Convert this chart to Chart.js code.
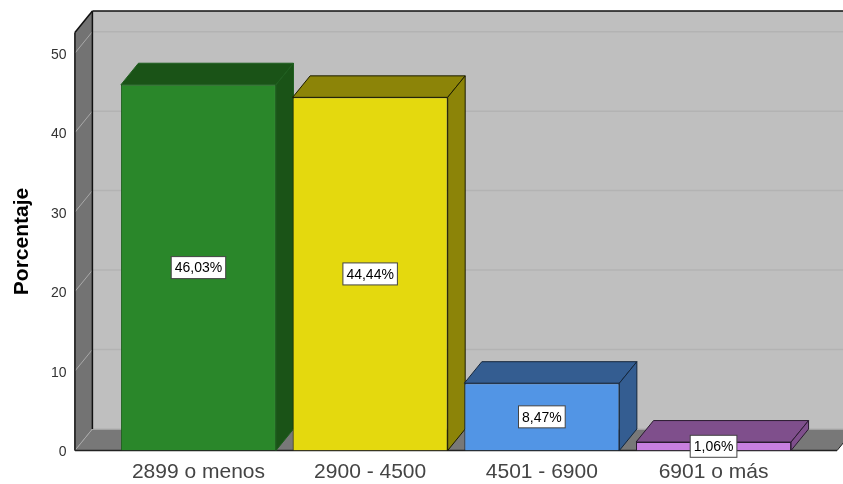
<!DOCTYPE html>
<html>
<head>
<meta charset="utf-8">
<style>
    html, body { margin: 0; padding: 0; background: #fff; }
    canvas { display: block; }
</style>
<script src="https://cdn.jsdelivr.net/npm/chart.js@4"></script>
</head>
<body>
<canvas id="chart" width="843" height="484"></canvas>
<script>
const categories = ['2899 o menos', '2900 - 4500', '4501 - 6900', '6901 o más'];
const percentages = [46.03, 44.44, 8.47, 1.06];
const valueLabels = ['46,03%', '44,44%', '8,47%', '1,06%'];
const yTicks = [0, 10, 20, 30, 40, 50];
const yMax = 52.6;

const frontColors = ['#2a872a', '#e4d90e', '#5295e5', '#c87fe0'];
const darkColors = ['#1a5317', '#8c8408', '#345d91', '#7f4f8c'];
const edgeColors = ['#1f5f1f', '#1c1c00', '#14263c', '#2a1a30'];

// depth of the fake 3D box, and how far the walls go past the outer bars
const depthX = 17.5;
const depthY = 21.5;
const wallPad = 37.7;

function poly(ctx, pts, fill, stroke) {
    ctx.beginPath();
    ctx.moveTo(pts[0][0], pts[0][1]);
    pts.slice(1).forEach(p => ctx.lineTo(p[0], p[1]));
    ctx.closePath();
    if (fill) { ctx.fillStyle = fill; ctx.fill(); }
    if (stroke) { ctx.strokeStyle = stroke; ctx.lineWidth = 1; ctx.stroke(); }
}

function line(ctx, x1, y1, x2, y2, color, width) {
    ctx.beginPath();
    ctx.moveTo(x1, y1);
    ctx.lineTo(x2, y2);
    ctx.strokeStyle = color;
    ctx.lineWidth = width || 1;
    ctx.stroke();
}

const box3d = {
    id: 'box3d',
    beforeDatasetsDraw(chart) {
        const ctx = chart.ctx;
        const area = chart.chartArea;
        const y = chart.scales.y;
        const left = area.left - wallPad;
        const right = area.right + wallPad;
        const top = area.top;
        const bottom = area.bottom;

        ctx.save();
        // back wall, left wall, floor
        poly(ctx, [[left + depthX, top - depthY], [right + depthX, top - depthY], [right + depthX, bottom - depthY], [left + depthX, bottom - depthY]], '#bfbfbf');
        poly(ctx, [[left, top], [left + depthX, top - depthY], [left + depthX, bottom - depthY], [left, bottom]], '#737373');
        poly(ctx, [[left, bottom], [left + depthX, bottom - depthY], [right + depthX, bottom - depthY], [right, bottom]], '#787878');

        // gridlines run along the left wall and then the back wall
        yTicks.forEach(t => {
            const py = y.getPixelForValue(t);
            line(ctx, left, py, left + depthX, py - depthY, '#a9a9a9');
            line(ctx, left + depthX, py - depthY, right + depthX, py - depthY, '#b3b3b3', 1.5);
        });

        // outline of the box
        line(ctx, left, top, left + depthX, top - depthY, '#111', 1.5);
        line(ctx, left + depthX, top - depthY, right + depthX, top - depthY, '#111', 1.5);
        line(ctx, left, top, left, bottom, '#111', 1.5);
        line(ctx, left + depthX, top - depthY, left + depthX, bottom - depthY, '#111', 1.5);
        line(ctx, left, bottom, right, bottom, '#222', 1.5);
        line(ctx, right, bottom, right + depthX, bottom - depthY, '#222');

        // top and right side of each bar
        chart.getDatasetMeta(0).data.forEach((bar, i) => {
            const l = bar.x - bar.width / 2;
            const r = bar.x + bar.width / 2;
            poly(ctx, [[l, bar.y], [l + depthX, bar.y - depthY], [r + depthX, bar.y - depthY], [r, bar.y]], darkColors[i], edgeColors[i]);
            poly(ctx, [[r, bar.y], [r + depthX, bar.y - depthY], [r + depthX, bar.base - depthY], [r, bar.base]], darkColors[i], edgeColors[i]);
        });
        ctx.restore();
    },
    afterDatasetsDraw(chart) {
        const ctx = chart.ctx;
        ctx.save();
        ctx.font = '14px "Liberation Sans", Arial, sans-serif';
        chart.getDatasetMeta(0).data.forEach((bar, i) => {
            const w = ctx.measureText(valueLabels[i]).width + 7;
            const h = 22;
            const cy = (bar.y + bar.base) / 2;
            ctx.fillStyle = '#fff';
            ctx.fillRect(bar.x - w / 2, cy - h / 2, w, h);
            ctx.strokeStyle = '#444';
            ctx.lineWidth = 1;
            ctx.strokeRect(bar.x - w / 2, cy - h / 2, w, h);
            ctx.fillStyle = '#000';
            ctx.textAlign = 'center';
            ctx.textBaseline = 'middle';
            ctx.fillText(valueLabels[i], bar.x, cy + 1);
        });
        ctx.restore();
    }
};

new Chart(document.getElementById('chart'), {
    type: 'bar',
    data: {
        labels: categories,
        datasets: [{
            data: percentages,
            backgroundColor: frontColors,
            borderColor: edgeColors,
            borderWidth: 1,
            barPercentage: 0.903,
            categoryPercentage: 1
        }]
    },
    options: {
        responsive: false,
        animation: false,
        layout: { padding: { top: 32.5, right: 43.6, left: 0, bottom: 0 } },
        plugins: { legend: { display: false }, tooltip: { enabled: false } },
        scales: {
            x: {
                grid: { display: false, drawTicks: false },
                border: { display: false },
                ticks: {
                    color: '#444',
                    padding: 9,
                    maxRotation: 0,
                    autoSkip: false,
                    font: { family: '"Liberation Sans", Arial, sans-serif', size: 21 }
                },
                afterFit(scale) {
                    scale.height = 33.5;
                    scale.paddingLeft = 0;
                    scale.paddingRight = 0;
                }
            },
            y: {
                min: 0,
                max: yMax,
                grid: { display: false, drawTicks: false },
                border: { display: false },
                ticks: {
                    stepSize: 10,
                    includeBounds: false,
                    color: '#333',
                    padding: 46,
                    labelOffset: 2,
                    font: { family: '"Liberation Sans", Arial, sans-serif', size: 14 }
                },
                title: {
                    display: true,
                    text: 'Porcentaje',
                    color: '#000',
                    padding: { top: 10, bottom: 0 },
                    font: { family: '"Liberation Sans", Arial, sans-serif', size: 21, weight: 'bold' }
                },
                afterFit(scale) {
                    // tick padding would otherwise push the plot area in from top and bottom
                    scale.width = 112.6;
                    scale.paddingTop = 0;
                    scale.paddingBottom = 0;
                }
            }
        }
    },
    plugins: [box3d]
});
</script>
</body>
</html>
